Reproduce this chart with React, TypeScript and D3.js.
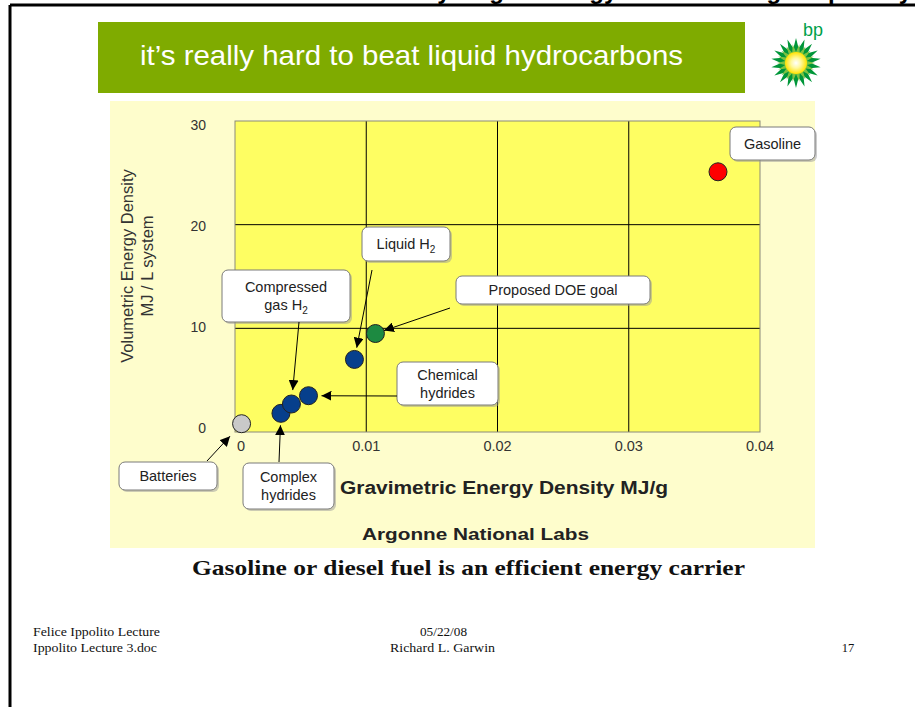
import React from "react";
import * as d3 from "d3";

// ---- data ----
const carriers = ["Batteries", "Complex hydrides", "Compressed gas H2", "Chemical hydrides", "Liquid H2", "Proposed DOE goal", "Gasoline"];
const gravimetric = [0.0005, 0.0035, 0.0043, 0.0056, 0.0091, 0.0107, 0.0368]; // MJ/g
const volumetric = [0.8, 1.8, 2.7, 3.5, 7.0, 9.5, 25.1]; // MJ/L system
const xTicks = [0, 0.01, 0.02, 0.03, 0.04];
const yTicks = [0, 10, 20, 30];
const xTickLabels = ["0", "0.01", "0.02", "0.03", "0.04"];

const kindColor: Record<string, string> = {
  "Batteries": "#c9c9c9",
  "Complex hydrides": "#063f8c",
  "Compressed gas H2": "#063f8c",
  "Chemical hydrides": "#063f8c",
  "Liquid H2": "#063f8c",
  "Proposed DOE goal": "#1d8a41",
  "Gasoline": "#ff0000",
};

type Ann = {
  target: string;
  lines: { t: string; sub?: string }[];
  box: [number, number, number, number];
  from?: [number, number];
  gap?: number;
};

const annotations: Ann[] = [
  { target: "Gasoline", lines: [{ t: "Gasoline" }], box: [730, 127, 85, 33] },
  { target: "Liquid H2", lines: [{ t: "Liquid H", sub: "2" }], box: [362, 227, 88, 34], from: [372, 270], gap: 12 },
  { target: "Proposed DOE goal", lines: [{ t: "Proposed DOE goal" }], box: [456, 276, 194, 28], from: [450, 308], gap: 9 },
  { target: "Chemical hydrides", lines: [{ t: "Chemical" }, { t: "hydrides" }], box: [397, 362, 101, 43], from: [397, 396], gap: 13 },
  { target: "Compressed gas H2", lines: [{ t: "Compressed" }, { t: "gas H", sub: "2" }], box: [222, 270, 128, 52], from: [299, 322], gap: 14 },
  { target: "Batteries", lines: [{ t: "Batteries" }], box: [119, 462, 98, 28], from: [207, 461], gap: 17 },
  { target: "Complex hydrides", lines: [{ t: "Complex" }, { t: "hydrides" }], box: [243, 463, 91, 46], from: [279, 462], gap: 12 },
];

const SANS = "'Liberation Sans', Arial, sans-serif";
const SERIF = "'Liberation Serif', 'Times New Roman', serif";

function starPoints(cx: number, cy: number, n: number, ro: number, ri: number, rot: number) {
  const pts: string[] = [];
  for (let i = 0; i < n * 2; i++) {
    const r = i % 2 === 0 ? ro : ri;
    const a = rot + (Math.PI * i) / n;
    pts.push(`${cx + r * Math.sin(a)},${cy - r * Math.cos(a)}`);
  }
  return pts.join(" ");
}

export default function App() {
  const x = d3.scaleLinear().domain([0, 0.04]).range([235, 760]);
  const y = d3.scaleLinear().domain([0, 30]).range([432, 121]);
  // tick labels in the source sit on a slightly tighter spacing than the gridlines
  const yLabel = d3.scaleLinear().domain([0, 30]).range([433, 130]);
  const r = 9;

  const points = carriers.map((c, i) => ({ name: c, px: x(gravimetric[i]), py: y(volumetric[i]) }));
  const byName = (n: string) => points.find((p) => p.name === n)!;

  return (
    <svg width={915} height={707} style={{ position: "absolute", left: 0, top: 0, background: "#fff" }}>
      <defs>
        <marker id="ah" viewBox="0 0 10 10" refX="10" refY="5" markerWidth="10" markerHeight="10" markerUnits="userSpaceOnUse" orient="auto">
          <path d="M0,0 L10,5 L0,10 z" fill="#000" />
        </marker>
        <radialGradient id="sun" cx="50%" cy="50%" r="50%">
          <stop offset="0%" stopColor="#ffffff" />
          <stop offset="45%" stopColor="#fff9a0" />
          <stop offset="100%" stopColor="#ffe200" />
        </radialGradient>
      </defs>
      <rect width={915} height={707} fill="#fff" />

      {/* heading text above the frame, cut off by the page edge as in the source */}
      <text x={912} y={-1} textAnchor="end" fontFamily={SANS} fontSize={24} fontWeight="bold" fill="#000">
        Hydrogen energy and its storage capability
      </text>

      {/* frame */}
      <line x1={10} y1={5} x2={915} y2={5} stroke="#000" strokeWidth={3} />
      <line x1={10} y1={5} x2={10} y2={707} stroke="#000" strokeWidth={3} />

      {/* green banner */}
      <rect x={98} y={22} width={647} height={71} fill="#7fab00" />
      <text x={140} y={65} fontFamily={SANS} fontSize={28} fill="#fff" textLength={543} lengthAdjust="spacingAndGlyphs">
        it’s really hard to beat liquid hydrocarbons
      </text>

      {/* bp logo */}
      <text x={803} y={36} fontFamily={SANS} fontSize={18} fill="#00a04a">bp</text>
      <polygon points={starPoints(796, 63, 18, 25, 15, 0)} fill="#009639" />
      <polygon points={starPoints(796, 63, 18, 19, 11, Math.PI / 18)} fill="#7cc242" />
      <circle cx={796} cy={63} r={11} fill="url(#sun)" />

      {/* chart panel */}
      <rect x={110} y={101} width={705} height={447} fill="#fefdcc" />

      {/* plot area */}
      <rect x={x(0)} y={y(30)} width={x(0.04) - x(0)} height={y(0) - y(30)} fill="#fefe62" />
      {xTicks.slice(1, -1).map((t) => (
        <line key={"gx" + t} x1={x(t)} x2={x(t)} y1={y(30)} y2={y(0)} stroke="#000" strokeWidth={1} />
      ))}
      {yTicks.slice(1, -1).map((t) => (
        <line key={"gy" + t} x1={x(0)} x2={x(0.04)} y1={y(t)} y2={y(t)} stroke="#000" strokeWidth={1} />
      ))}
      <rect x={x(0)} y={y(30)} width={x(0.04) - x(0)} height={y(0) - y(30)} fill="none" stroke="#8a8a7a" strokeWidth={1} />

      {/* tick labels */}
      {yTicks.map((t) => (
        <text key={"yt" + t} x={206} y={yLabel(t)} textAnchor="end" fontFamily={SANS} fontSize={14} fill="#333">
          {t}
        </text>
      ))}
      {xTicks.map((t, i) => (
        <text key={"xt" + t} x={i === 0 ? x(t) + 6 : x(t)} y={451} textAnchor="middle" fontFamily={SANS} fontSize={14.5} fill="#333">
          {xTickLabels[i]}
        </text>
      ))}

      {/* axis titles */}
      <text transform="translate(133,266) rotate(-90)" textAnchor="middle" fontFamily={SANS} fontSize={16.5} fill="#333">
        Volumetric Energy Density
      </text>
      <text transform="translate(153,266) rotate(-90)" textAnchor="middle" fontFamily={SANS} fontSize={16.5} fill="#333">
        MJ / L system
      </text>
      <text x={340} y={494} fontFamily={SANS} fontSize={18} fontWeight="bold" fill="#222" textLength={328} lengthAdjust="spacingAndGlyphs">
        Gravimetric Energy Density MJ/g
      </text>
      <text x={362} y={540} fontFamily={SANS} fontSize={16} fontWeight="bold" fill="#222" textLength={227} lengthAdjust="spacingAndGlyphs">
        Argonne National Labs
      </text>

      {/* points */}
      {points.map((p) => (
        <circle key={p.name} cx={p.px} cy={p.py} r={r} fill={kindColor[p.name]} stroke="#222" strokeWidth={1} />
      ))}

      {/* annotations */}
      {annotations.map((a) => {
        const [bx, by, bw, bh] = a.box;
        const p = byName(a.target);
        let arrow = null;
        if (a.from) {
          const [fx, fy] = a.from;
          const dx = p.px - fx;
          const dy = p.py - fy;
          const len = Math.sqrt(dx * dx + dy * dy);
          const g = a.gap ?? 12;
          const tx = p.px - (dx / len) * g;
          const ty = p.py - (dy / len) * g;
          arrow = <line x1={fx} y1={fy} x2={tx} y2={ty} stroke="#000" strokeWidth={1} markerEnd="url(#ah)" />;
        }
        const lh = a.lines.length === 1 ? 0 : 18;
        const cy0 = by + bh / 2 - (lh * (a.lines.length - 1)) / 2 + 5;
        return (
          <g key={a.target}>
            <rect x={bx + 2} y={by + 2} width={bw} height={bh} rx={6} fill="#9a9a9a" opacity={0.5} />
            <rect x={bx} y={by} width={bw} height={bh} rx={6} fill="#fff" stroke="#7a7a7a" strokeWidth={1} />
            {a.lines.map((l, i) => (
              <text key={i} x={bx + bw / 2} y={cy0 + i * lh} textAnchor="middle" fontFamily={SANS} fontSize={14.5} fill="#222">
                {l.t}
                {l.sub ? (
                  <tspan fontSize={10} dy={4}>
                    {l.sub}
                  </tspan>
                ) : null}
              </text>
            ))}
            {arrow}
          </g>
        );
      })}

      {/* caption */}
      <text x={192} y={575} fontFamily={SERIF} fontSize={22} fontWeight="bold" fill="#111" textLength={553} lengthAdjust="spacingAndGlyphs">
        Gasoline or diesel fuel is an efficient energy carrier
      </text>

      {/* footer */}
      <text x={33} y={636} fontFamily={SERIF} fontSize={12.5} fill="#111" textLength={127} lengthAdjust="spacingAndGlyphs">Felice Ippolito Lecture</text>
      <text x={33} y={652} fontFamily={SERIF} fontSize={12.5} fill="#111" textLength={124} lengthAdjust="spacingAndGlyphs">Ippolito Lecture 3.doc</text>
      <text x={420} y={636} fontFamily={SERIF} fontSize={12.5} fill="#111" textLength={47} lengthAdjust="spacingAndGlyphs">05/22/08</text>
      <text x={390} y={652} fontFamily={SERIF} fontSize={12.5} fill="#111" textLength={105} lengthAdjust="spacingAndGlyphs">Richard L. Garwin</text>
      <text x={848} y={652} textAnchor="middle" fontFamily={SERIF} fontSize={12.5} fill="#111">17</text>
    </svg>
  );
}
